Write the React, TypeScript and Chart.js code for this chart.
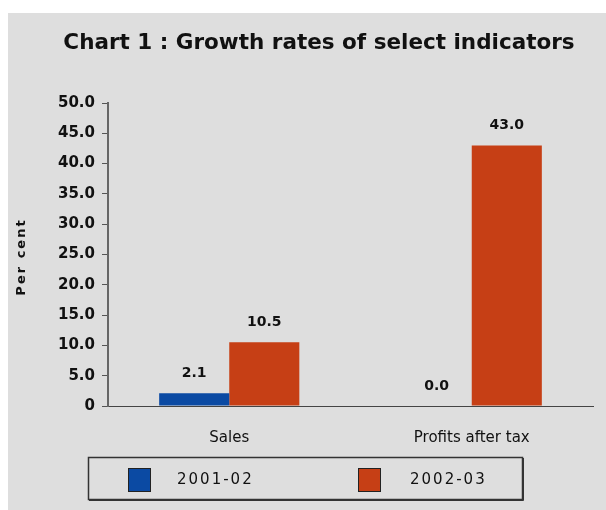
import React, { useEffect, useRef } from "react";
import { Chart, registerables } from "chart.js";

Chart.register(...registerables);

const categories = ["Sales", "Profits after tax"];
const seriesLabels = ["2001-02", "2002-03"];
const series2001 = [2.1, 0.0];
const series2002 = [10.5, 43.0];
const yTicks = [0, 5, 10, 15, 20, 25, 30, 35, 40, 45, 50];
const titleText = "Chart 1 : Growth rates of select indicators";
const yTitle = "Per cent";

const BLUE = "#0b4aa3";
const ORANGE = "#c63f15";
const FONT = "'DejaVu Sans', Verdana, sans-serif";

const overlayPlugin = {
  id: "overlay",
  afterDraw(chart: any) {
    const ctx = chart.ctx;
    ctx.save();
    // title
    ctx.fillStyle = "#111";
    ctx.font = `bold 21.5px ${FONT}`;
    ctx.textAlign = "center";
    ctx.textBaseline = "middle";
    ctx.fillText(titleText, 311, 30);

    // y title
    ctx.save();
    ctx.translate(14, 244);
    ctx.rotate(-Math.PI / 2);
    ctx.font = `bold 13px ${FONT}`;
    (ctx as any).letterSpacing = "2px";
    ctx.fillText(yTitle, 0, 0);
    ctx.restore();

    // data labels
    ctx.font = `bold 14px ${FONT}`;
    ctx.textBaseline = "alphabetic";
    chart.data.datasets.forEach((ds: any, di: number) => {
      const meta = chart.getDatasetMeta(di);
      meta.data.forEach((bar: any, i: number) => {
        const v = ds.data[i] as number;
        ctx.fillText(v.toFixed(1), bar.x, bar.y - 16);
      });
    });

    // legend box
    ctx.strokeStyle = "#333";
    ctx.lineWidth = 1.5;
    ctx.strokeRect(80.5, 444.5, 434, 42);
    ctx.lineWidth = 1;
    ctx.beginPath();
    ctx.moveTo(81, 487.5);
    ctx.lineTo(515.5, 487.5);
    ctx.lineTo(515.5, 445);
    ctx.stroke();

    const items = [
      { x: 120, tx: 169, color: BLUE },
      { x: 350, tx: 402, color: ORANGE },
    ];
    ctx.font = `15px ${FONT}`;
    (ctx as any).letterSpacing = "2px";
    ctx.textAlign = "left";
    ctx.textBaseline = "middle";
    items.forEach((it, i) => {
      ctx.fillStyle = it.color;
      ctx.fillRect(it.x, 455, 22, 23);
      ctx.strokeStyle = "#222";
      ctx.lineWidth = 1;
      ctx.strokeRect(it.x + 0.5, 455.5, 22, 23);
      ctx.fillStyle = "#111";
      ctx.fillText(seriesLabels[i], it.tx, 467);
    });
    ctx.restore();
  },
};

export default function App() {
  const ref = useRef<HTMLCanvasElement | null>(null);
  useEffect(() => {
    if (!ref.current) return;
    const chart = new Chart(ref.current, {
      type: "bar",
      data: {
        labels: categories,
        datasets: [
          {
            label: seriesLabels[0],
            data: series2001,
            backgroundColor: BLUE,
            barPercentage: 1,
            categoryPercentage: 0.578,
          },
          {
            label: seriesLabels[1],
            data: series2002,
            backgroundColor: ORANGE,
            barPercentage: 1,
            categoryPercentage: 0.578,
          },
        ],
      },
      options: {
        animation: false,
        responsive: false,
        devicePixelRatio: 1,
        layout: { padding: { left: 0, right: 13, top: 90, bottom: 0 } },
        plugins: {
          legend: { display: false },
          title: { display: false },
          tooltip: { enabled: false },
        },
        scales: {
          x: {
            grid: { display: false, drawTicks: false },
            border: { display: true, color: "#444", width: 1 },
            ticks: {
              padding: 23,
              color: "#111",
              font: { family: FONT, size: 15 },
            },
            afterFit: (s: any) => {
              s.height = 104;
            },
          },
          y: {
            min: 0,
            max: 50,
            afterBuildTicks: (s: any) => {
              s.ticks = yTicks.map((v) => ({ value: v }));
            },
            grid: {
              display: true,
              drawOnChartArea: false,
              drawTicks: true,
              tickLength: 6,
              color: "#555",
            },
            border: { display: true, color: "#666", width: 2 },
            ticks: {
              padding: 7,
              color: "#111",
              font: { family: FONT, size: 15, weight: "bold" },
              callback: (v: any) => (Number(v) === 0 ? "0" : Number(v).toFixed(1)),
            },
            afterFit: (s: any) => {
              s.width = 100;
            },
          },
        },
      },
      plugins: [overlayPlugin],
    });
    return () => chart.destroy();
  }, []);
  return (
    <div
      style={{
        position: "absolute",
        left: 8,
        top: 13,
        width: 598,
        height: 497,
        background: "#dedede",
      }}
    >
      <canvas ref={ref} width={598} height={497} style={{ display: "block" }} />
    </div>
  );
}
